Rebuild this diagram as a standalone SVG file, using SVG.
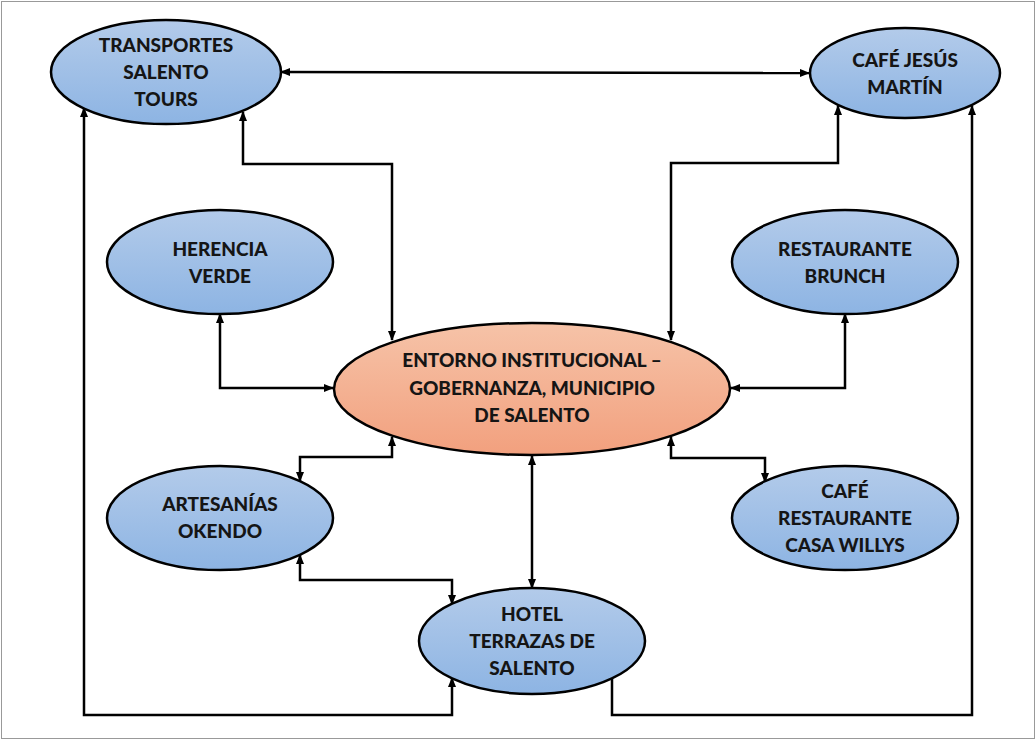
<svg xmlns="http://www.w3.org/2000/svg" width="1036" height="740" viewBox="0 0 1036 740">
<defs>
<linearGradient id="gb" x1="0" y1="0" x2="0" y2="1">
<stop offset="0" stop-color="#b3cbea"/>
<stop offset="1" stop-color="#8db4e3"/>
</linearGradient>
<linearGradient id="go" x1="0" y1="0" x2="0" y2="1">
<stop offset="0" stop-color="#f6c3a8"/>
<stop offset="1" stop-color="#f2a07e"/>
</linearGradient>
<marker id="ah" markerWidth="10" markerHeight="8" refX="9" refY="4" orient="auto-start-reverse" markerUnits="userSpaceOnUse">
<path d="M0,0 L10,4 L0,8 Z" fill="#000"/>
</marker>
</defs>
<style>
.n ellipse{stroke:#000;stroke-width:2.5}
.b{fill:url(#gb)}
.o{fill:url(#go)}
text{font-family:Lato,"Liberation Sans",sans-serif;font-weight:900;font-size:19px;fill:#151515;text-anchor:middle}
.c path{fill:none;stroke:#000;stroke-width:2.5}
</style>
<rect x="1.5" y="1.5" width="1033" height="737" fill="#fff" stroke="#999" stroke-width="1"/>
<g class="c" id="connectors">
<path d="M281,72 L809,73" marker-start="url(#ah)" marker-end="url(#ah)"/>
<path d="M243,112 L243,164 L392,164 L392,340" marker-start="url(#ah)" marker-end="url(#ah)"/>
<path d="M838,106 L838,163 L671,163 L671,340" marker-start="url(#ah)" marker-end="url(#ah)"/>
<path d="M220,314 L220,388 L333,388" marker-start="url(#ah)" marker-end="url(#ah)"/>
<path d="M845,314 L845,388 L731,388" marker-start="url(#ah)" marker-end="url(#ah)"/>
<path d="M300,481 L300,457 L392,457 L392,437" marker-start="url(#ah)" marker-end="url(#ah)"/>
<path d="M765,482 L765,458 L671,458 L671,437" marker-start="url(#ah)" marker-end="url(#ah)"/>
<path d="M532,456 L532,588" marker-start="url(#ah)" marker-end="url(#ah)"/>
<path d="M300,555 L300,580 L452,580 L452,604" marker-start="url(#ah)" marker-end="url(#ah)"/>
<path d="M84,108 L84,715 L452,715 L452,678" marker-start="url(#ah)" marker-end="url(#ah)"/>
<path d="M612,679 L612,715 L972,715 L972,106" marker-end="url(#ah)"/>
</g>
<g class="n" id="n-transportes"><ellipse class="b" cx="166" cy="72" rx="115" ry="52"/><text x="166" y="52">TRANSPORTES</text><text x="166" y="79">SALENTO</text><text x="166" y="106">TOURS</text></g>
<g class="n" id="n-cafejesus"><ellipse class="b" cx="905" cy="73" rx="95" ry="45"/><text x="905" y="67">CAFÉ JESÚS</text><text x="905" y="94">MARTÍN</text></g>
<g class="n" id="n-herencia"><ellipse class="b" cx="220" cy="262" rx="113" ry="52"/><text x="220" y="256">HERENCIA</text><text x="220" y="283">VERDE</text></g>
<g class="n" id="n-brunch"><ellipse class="b" cx="845" cy="262" rx="113" ry="52"/><text x="845" y="256">RESTAURANTE</text><text x="845" y="283">BRUNCH</text></g>
<g class="n" id="n-entorno"><ellipse class="o" cx="532" cy="389" rx="198" ry="66"/><text x="532" y="367">ENTORNO INSTITUCIONAL –</text><text x="532" y="395">GOBERNANZA, MUNICIPIO</text><text x="532" y="422">DE SALENTO</text></g>
<g class="n" id="n-artesanias"><ellipse class="b" cx="220" cy="518" rx="113" ry="52"/><text x="220" y="511">ARTESANÍAS</text><text x="220" y="538">OKENDO</text></g>
<g class="n" id="n-willys"><ellipse class="b" cx="845" cy="518" rx="113" ry="52"/><text x="845" y="498">CAFÉ</text><text x="845" y="525">RESTAURANTE</text><text x="845" y="552">CASA WILLYS</text></g>
<g class="n" id="n-hotel"><ellipse class="b" cx="532" cy="641" rx="113" ry="53"/><text x="532" y="621">HOTEL</text><text x="532" y="648">TERRAZAS DE</text><text x="532" y="675">SALENTO</text></g>
</svg>
